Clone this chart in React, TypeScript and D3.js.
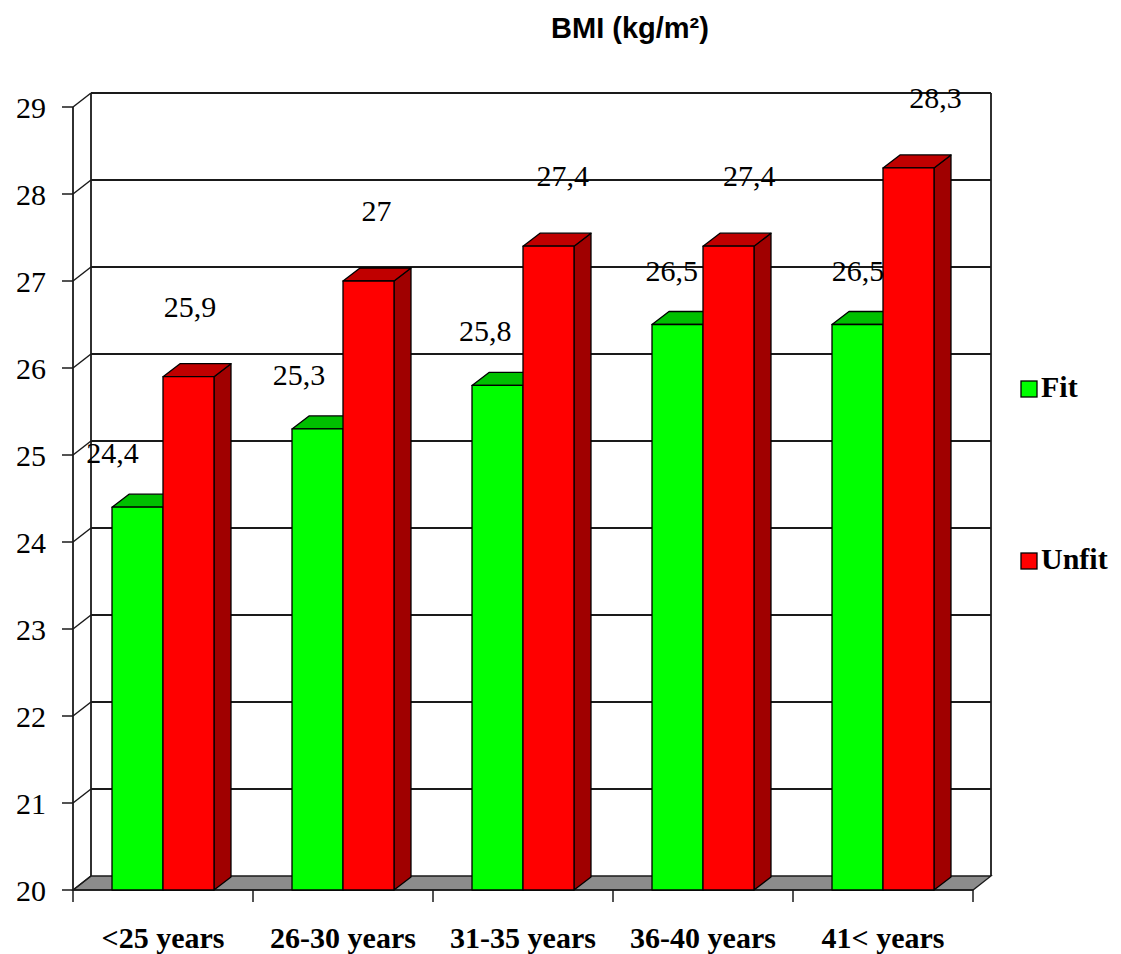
import React from 'react';
import * as d3 from 'd3';

// Age groups and mean BMI per group
const categories = ['<25 years', '26-30 years', '31-35 years', '36-40 years', '41< years'];
const seriesNames = ['Fit', 'Unfit'];
const fitValues = [24.4, 25.3, 25.8, 26.5, 26.5];
const unfitValues = [25.9, 27, 27.4, 27.4, 28.3];
const yTicks = [20, 21, 22, 23, 24, 25, 26, 27, 28, 29];

const W = 1121;
const H = 954;

const colors: Record<string, { front: string; top: string; side: string }> = {
  Fit: { front: '#00ff00', top: '#00c000', side: '#009000' },
  Unfit: { front: '#ff0000', top: '#c00000', side: '#a00000' },
};

const serif = '"Liberation Serif", "Times New Roman", serif';
const sans = '"Liberation Sans", Arial, sans-serif';

export default function App() {
  const x0 = d3.scaleBand<string>().domain(categories).range([73, 973]).padding(0);
  const bw = x0.bandwidth();
  const x1 = d3
    .scaleBand<string>()
    .domain(seriesNames)
    .range([bw * 0.2167, bw * 0.7833])
    .padding(0);
  const y = d3.scaleLinear().domain([20, 29]).range([890, 107]);

  // 3D depth offsets
  const wdx = 18, wdy = -14; // walls
  const bdx = 17, bdy = -13; // bars

  const left = x0.range()[0];
  const right = x0.range()[1];
  const base = y(20);
  const topY = y(29);

  const valuesBySeries: Record<string, number[]> = { Fit: fitValues, Unfit: unfitValues };
  const fmt = (v: number) => String(v).replace('.', ',');

  const bars: { s: string; i: number; v: number; x: number }[] = [];
  categories.forEach((c, i) => {
    seriesNames.forEach((s) => {
      bars.push({ s, i, v: valuesBySeries[s][i], x: (x0(c) as number) + (x1(s) as number) });
    });
  });
  const w = x1.bandwidth();

  // label placement per series
  const labelShift: Record<string, { dx: number; step: number; dy: number }> = {
    Fit: { dx: -25, step: 6.4, dy: -44 },
    Unfit: { dx: 1.5, step: 6.4, dy: -60 },
  };

  const line = '#1a1a1a';

  return (
    <svg
      width={W}
      height={H}
      style={{ position: 'absolute', left: 0, top: 0, background: '#fff' }}
    >
      {/* title */}
      <text x={630} y={38} textAnchor="middle" fontFamily={sans} fontWeight="bold" fontSize={29}>
        BMI (kg/m²)
      </text>

      {/* floor */}
      <polygon
        points={`${left},${base} ${right},${base} ${right + wdx},${base + wdy} ${left + wdx},${base + wdy}`}
        fill="#8c8c8c"
        stroke={line}
        strokeWidth={1.3}
      />

      {/* back wall gridlines and left wall diagonals */}
      {yTicks.map((t) => (
        <g key={t}>
          {t > 20 && (
            <line x1={left + wdx} x2={right + wdx} y1={y(t) + wdy} y2={y(t) + wdy} stroke={line} strokeWidth={1.8} />
          )}
          <line x1={left} x2={left + wdx} y1={y(t)} y2={y(t) + wdy} stroke={line} strokeWidth={1.5} />
          <line x1={left - 11} x2={left} y1={y(t)} y2={y(t)} stroke={line} strokeWidth={1.5} />
          <text
            x={46}
            y={y(t)}
            dy="0.35em"
            textAnchor="end"
            fontFamily={serif}
            fontSize={30}
            fill="#000"
          >
            {t}
          </text>
        </g>
      ))}

      {/* wall verticals */}
      <line x1={left} x2={left} y1={topY} y2={base} stroke={line} strokeWidth={1.8} />
      <line x1={left + wdx} x2={left + wdx} y1={topY + wdy} y2={base + wdy} stroke={line} strokeWidth={1.8} />
      <line x1={right + wdx} x2={right + wdx} y1={topY + wdy} y2={base + wdy} stroke={line} strokeWidth={1.8} />

      {/* category axis */}
      <line x1={left} x2={right} y1={base} y2={base} stroke={line} strokeWidth={1.5} />
      {[...categories.map((c) => x0(c) as number), right].map((tx, k) => (
        <line key={k} x1={tx} x2={tx} y1={base} y2={base + 12} stroke={line} strokeWidth={1.5} />
      ))}
      {categories.map((c) => (
        <text
          key={c}
          x={(x0(c) as number) + bw / 2}
          y={948}
          textAnchor="middle"
          fontFamily={serif}
          fontWeight="bold"
          fontSize={30}
        >
          {c}
        </text>
      ))}

      {/* bars */}
      {bars.map((b) => {
        const c = colors[b.s];
        const yt = y(b.v);
        return (
          <g key={b.s + b.i} stroke="#000" strokeWidth={1.3} strokeLinejoin="round">
            <polygon
              points={`${b.x + w},${yt} ${b.x + w + bdx},${yt + bdy} ${b.x + w + bdx},${base + bdy} ${b.x + w},${base}`}
              fill={c.side}
            />
            <polygon
              points={`${b.x},${yt} ${b.x + bdx},${yt + bdy} ${b.x + w + bdx},${yt + bdy} ${b.x + w},${yt}`}
              fill={c.top}
            />
            <rect x={b.x} y={yt} width={w} height={base - yt} fill={c.front} />
          </g>
        );
      })}

      {/* value labels */}
      {bars.map((b) => {
        const ls = labelShift[b.s];
        return (
          <text
            key={'l' + b.s + b.i}
            x={b.x + w / 2 + ls.dx + ls.step * b.i}
            y={y(b.v) + ls.dy}
            textAnchor="middle"
            fontFamily={serif}
            fontSize={30}
            fill="#000"
          >
            {fmt(b.v)}
          </text>
        );
      })}

      {/* legend */}
      {seriesNames.map((s, k) => (
        <g key={s} transform={`translate(1021, ${381 + k * 172})`}>
          <rect x={0} y={0} width={16} height={16} fill={colors[s].front} stroke="#000" strokeWidth={1.3} />
          <text x={20} y={16} fontFamily={serif} fontWeight="bold" fontSize={30}>
            {s}
          </text>
        </g>
      ))}
    </svg>
  );
}
